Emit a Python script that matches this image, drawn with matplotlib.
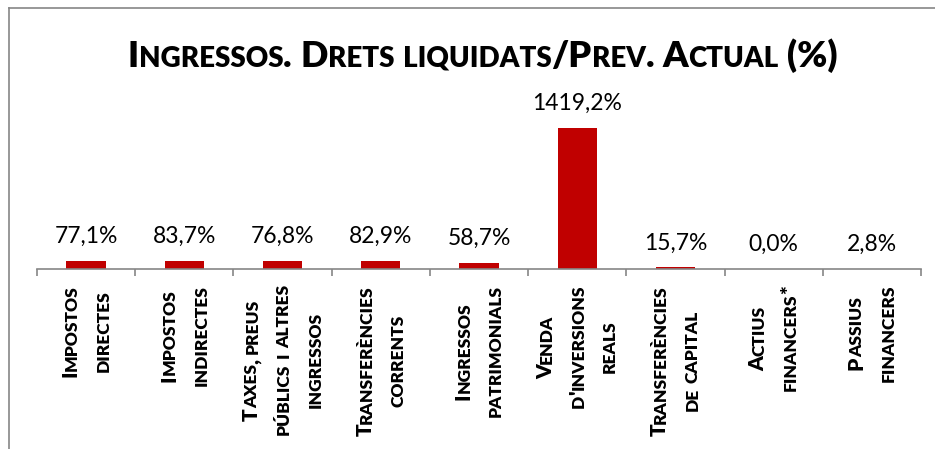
import numpy as np
import matplotlib
matplotlib.use("Agg")
import matplotlib.pyplot as plt
from matplotlib.font_manager import FontProperties
from matplotlib.lines import Line2D
from matplotlib.transforms import IdentityTransform

# data
categories = ["Impostos\ndirectes", "Impostos\nindirectes",
              "Taxes, preus\npúblics i altres\ningressos",
              "Transferències\ncorrents", "Ingressos\npatrimonials",
              "Venda\nd'inversions\nreals", "Transferències\nde capital",
              "Actius\nfinancers*", "Passius\nfinancers"]
values = [77.1, 83.7, 76.8, 82.9, 58.7, 1419.2, 15.7, 0.0, 2.8]
title = "Ingressos. Drets liquidats/Prev. Actual (%)"

FONT = "Lato"
WEIGHT = "heavy"
RED = "#C00000"
GRAY = "#868686"
W, H = 935, 449

fig = plt.figure(figsize=(W / 100, H / 100), dpi=100)
ax = fig.add_axes([37 / W, (H - 269) / H, (921 - 37) / W, (269 - 110) / H])

x = np.arange(len(values))
ax.bar(x, values, width=0.4, color=RED)
ax.set_xlim(-0.5, len(values) - 0.5)
ax.set_ylim(0, 1600)
for s in ["top", "right", "left"]:
    ax.spines[s].set_visible(False)
ax.spines["bottom"].set_color(GRAY)
ax.spines["bottom"].set_linewidth(1.2)
ax.set_yticks([])
ax.set_xticks(np.arange(len(values) + 1) - 0.5)
ax.set_xticklabels([])
ax.tick_params(axis="x", length=5, width=1.2, color=GRAY)

for xi, v in zip(x, values):
    ax.annotate(f"{v:.1f}%".replace(".", ","), (xi, v), xytext=(0, 13),
                textcoords="offset points", ha="center", va="baseline",
                fontsize=16.5, family=FONT)

renderer = fig.canvas.get_renderer()


def caps_runs(text, big, small):
    # fake small caps: lowercase letters become smaller capitals
    runs = []
    for ch in text:
        size = small if ch.islower() else big
        if runs and runs[-1][1] == size and ch != " " and runs[-1][0][-1] != " ":
            runs[-1][0] += ch.upper()
        else:
            runs.append([ch.upper(), size])
    return runs


def run_width(s, size):
    prop = FontProperties(family=FONT, weight=WEIGHT, size=size)
    w1 = renderer.get_text_width_height_descent(s + "|", prop, ismath=False)[0]
    w0 = renderer.get_text_width_height_descent("|", prop, ismath=False)[0]
    return w1 - w0


def draw_runs(x0, y0, runs, rotation=0):
    pos = 0
    for s, size in runs:
        w = run_width(s, size)
        if s.strip():
            if rotation:
                px, py = x0, y0 + pos
            else:
                px, py = x0 + pos, y0
            fig.text(px, py, s, fontsize=size, weight=WEIGHT, family=FONT,
                     rotation=rotation, rotation_mode="anchor",
                     ha="left", va="baseline", transform=IdentityTransform())
        pos += w


# title
truns = caps_runs(title, 26, 20)
tw = sum(run_width(s, z) for s, z in truns)
draw_runs(482.5 - tw / 2, H - 67, truns)

# category labels, rotated, lines centred on each other
pitch = 31.5
for i, lab in enumerate(categories):
    cx, y_axis = ax.transData.transform((i, 0))
    lines = lab.split("\n")
    lruns = [caps_runs(l, 15, 12.5) for l in lines]
    lens = [sum(run_width(s, z) for s, z in r) for r in lruns]
    mid = y_axis - 16 - max(lens) / 2
    n = len(lines)
    for j, r in enumerate(lruns):
        bx = cx + (j - (n - 1) / 2) * pitch + 6.5
        draw_runs(bx, mid - lens[j] / 2, r, rotation=90)

# chart border (cropped on right and bottom)
fig.add_artist(Line2D([9 / W, 9 / W], [-0.1, 1 - 8 / H], transform=fig.transFigure,
                      color=GRAY, lw=1.2))
fig.add_artist(Line2D([9 / W, 1.1], [1 - 8 / H, 1 - 8 / H], transform=fig.transFigure,
                      color=GRAY, lw=1.2))

fig.savefig("out.png", dpi=100)
